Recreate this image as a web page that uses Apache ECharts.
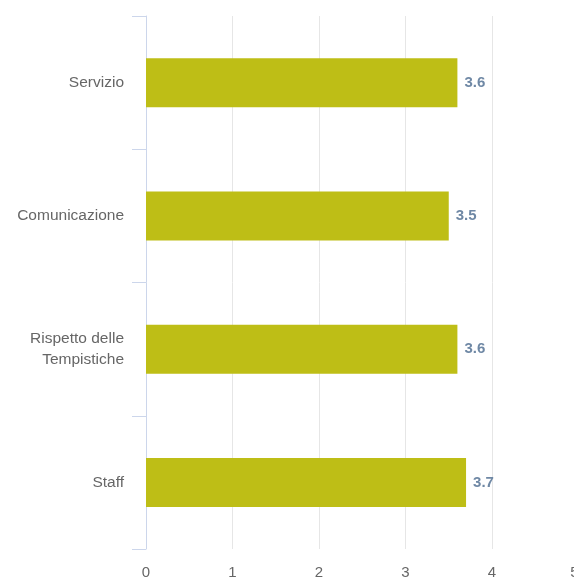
<!DOCTYPE html>
<html>
<head>
<meta charset="utf-8">
<script src="https://cdn.jsdelivr.net/npm/echarts@6/dist/echarts.min.js"></script>
<style>
  html, body { margin: 0; padding: 0; background: #fff; }
  #chart { width: 574px; height: 578px; }
</style>
</head>
<body>
<div id="chart"></div>
<script>
// Categories (top to bottom) and their average scores
const categories = ['Servizio', 'Comunicazione', 'Rispetto delle\nTempistiche', 'Staff'];
const scores = [3.6, 3.5, 3.6, 3.7];
const xTicks = [0, 1, 2, 3, 4, 5];

const FONT = '"Liberation Sans", Arial, Helvetica, sans-serif';

const chart = echarts.init(document.getElementById('chart'), null, { renderer: 'canvas' });

chart.setOption({
  animation: false,
  backgroundColor: '#ffffff',
  grid: {
    left: 146, top: 16, width: 432.5, height: 533,
    containLabel: false,
    outerBoundsMode: 'none'
  },
  xAxis: {
    type: 'value',
    min: xTicks[0],
    max: xTicks[xTicks.length - 1],
    interval: 1,
    axisLine: { show: false },
    axisTick: { show: false },
    splitLine: { show: true, lineStyle: { color: '#e6e6e6', width: 1 } },
    axisLabel: {
      color: '#666666',
      fontFamily: FONT,
      fontSize: 15,
      margin: 16,
      showMinLabel: true,
      showMaxLabel: true,
      alignMaxLabel: 'right',
      hideOverlap: false
    }
  },
  yAxis: {
    type: 'category',
    inverse: true,
    data: categories,
    axisLine: { show: true, lineStyle: { color: '#ccd6eb', width: 1 } },
    axisTick: { show: true, length: 14, lineStyle: { color: '#ccd6eb', width: 1 } },
    splitLine: { show: false },
    axisLabel: {
      color: '#666666',
      fontFamily: FONT,
      fontSize: 15.5,
      lineHeight: 21,
      align: 'right',
      margin: 22
    }
  },
  series: [{
    type: 'bar',
    data: scores,
    barWidth: 49,
    itemStyle: { color: '#bebe16' },
    label: {
      show: true,
      position: 'right',
      distance: 7,
      color: '#6f88a5',
      fontFamily: FONT,
      fontSize: 15,
      fontWeight: 'bold',
      formatter: p => p.value.toFixed(1)
    }
  }]
});
</script>
</body>
</html>
